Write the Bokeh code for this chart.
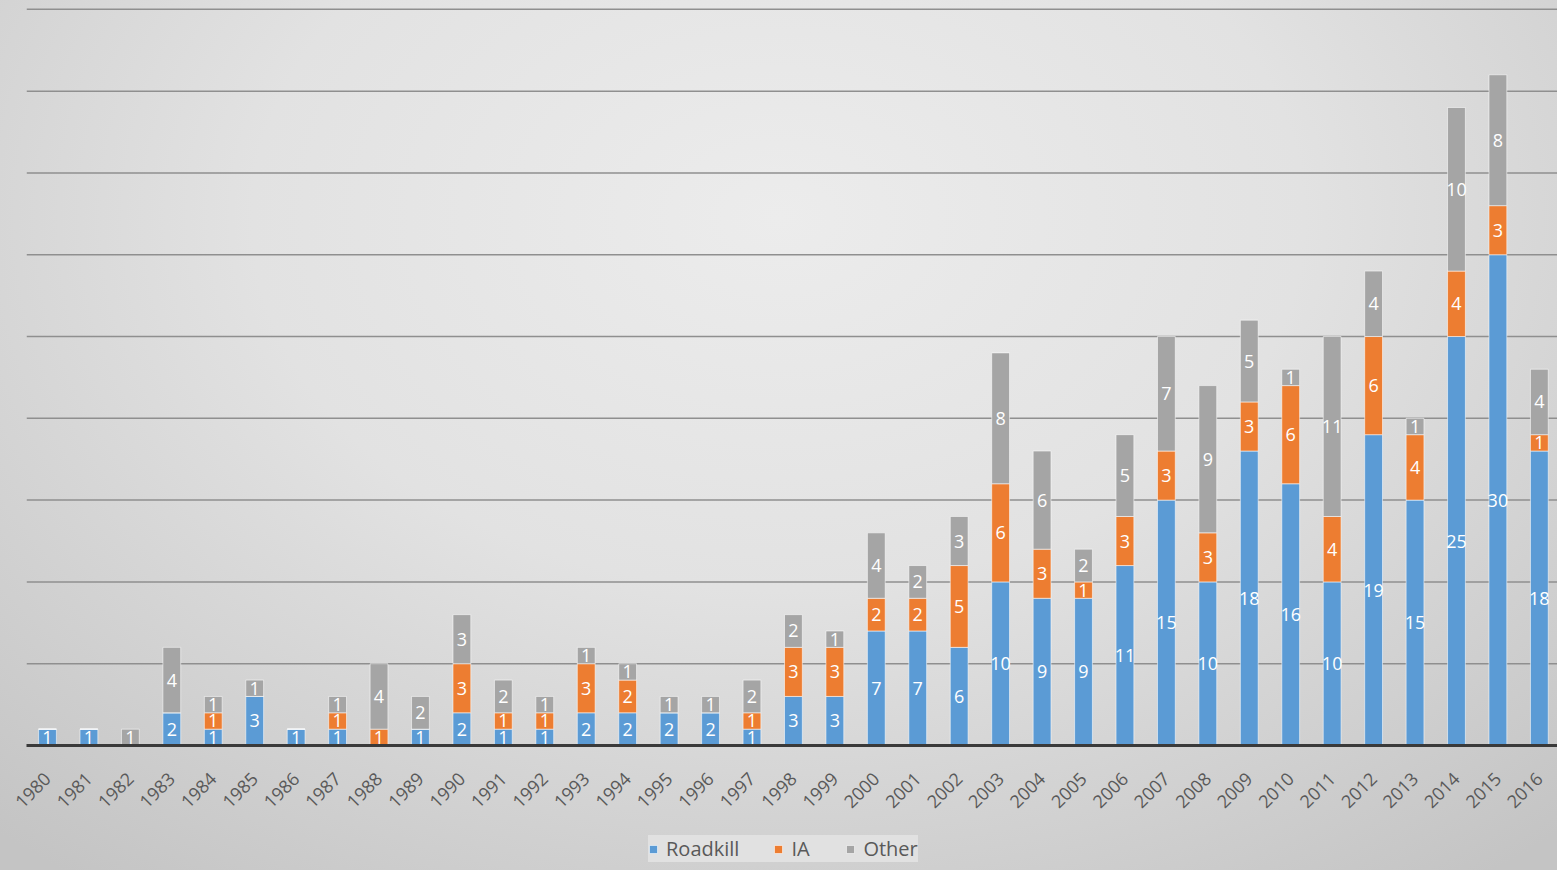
from bokeh.plotting import figure
from bokeh.models import (Range1d, FixedTicker, ColumnDataSource, Legend,
                          LegendItem)
from bokeh.core.properties import value
from bokeh.embed import file_html
from bokeh.resources import INLINE

# Yearly counts by cause
years = list(range(1980, 2017))
roadkill = [1, 1, 0, 2, 1, 3, 1, 1, 0, 1, 2, 1, 1, 2, 2, 2, 2, 1, 3, 3,
            7, 7, 6, 10, 9, 9, 11, 15, 10, 18, 16, 10, 19, 15, 25, 30, 18]
ia = [0, 0, 0, 0, 1, 0, 0, 1, 1, 0, 3, 1, 1, 3, 2, 0, 0, 1, 3, 3,
      2, 2, 5, 6, 3, 1, 3, 3, 3, 3, 6, 4, 6, 4, 4, 3, 1]
other = [0, 0, 1, 4, 1, 1, 0, 1, 4, 2, 3, 2, 1, 1, 1, 1, 1, 2, 2, 1,
         4, 2, 3, 8, 6, 2, 5, 7, 9, 5, 1, 11, 4, 1, 10, 8, 4]
series = ["Roadkill", "IA", "Other"]
colors = ["#5B9BD5", "#ED7D31", "#A5A5A5"]
grid_levels = [5, 10, 15, 20, 25, 30, 35, 40, 45]

FONT = "Open Sans"

source = ColumnDataSource(dict(year=years, Roadkill=roadkill, IA=ia, Other=other))

# The frame fills the canvas; the year axis is pinned at zero so the
# labels and legend share the area underneath it.
p = figure(width=1557, height=870,
           x_range=Range1d(1978.866, 2016.438), y_range=Range1d(-7.64, 45.54),
           output_backend="svg", toolbar_location=None,
           min_border_left=0, min_border_right=0, min_border_top=0,
           min_border_bottom=0)

# Soft radial backdrop behind a transparent canvas
p.styles = {"background-image":
            "radial-gradient(ellipse 75% 95% at 50% 25%, #ececec 0%, #e2e2e2 45%, #cfcfcf 80%, #c4c4c4 100%)"}
p.border_fill_alpha = 0
p.background_fill_alpha = 0
p.outline_line_color = None

# Horizontal gridlines spanning the category area only
p.xgrid.grid_line_color = None
p.ygrid.grid_line_color = None
p.segment(x0=[years[0] - 0.5] * len(grid_levels), x1=[years[-1] + 1] * len(grid_levels),
          y0=grid_levels, y1=grid_levels, line_color="#8f8f8f", line_width=1.5)

renderers = p.vbar_stack(series, x="year", width=0.43, color=colors,
                         line_color="white", line_alpha=0.55, line_width=1,
                         source=source)

# Segment value labels, centred inside each stacked segment
lx, ly, lt = [], [], []
for i, yr in enumerate(years):
    base = 0
    for vals in (roadkill, ia, other):
        v = vals[i]
        if v > 0:
            lx.append(yr)
            ly.append(base + v / 2)
            lt.append(str(v))
        base += v
p.text(x=lx, y=ly, text=lt, text_color="white", text_font=value(FONT),
       text_font_size="18px", text_align="center", text_baseline="middle")

# Year axis, starting at the first category's left edge
p.yaxis.visible = False
xa = p.xaxis[0]
xa.fixed_location = 0
xa.bounds = (years[0] - 0.5, years[-1] + 1)
xa.ticker = FixedTicker(ticks=years)
xa.major_label_overrides = {y: str(y) for y in years}
xa.major_label_orientation = 0.785398
xa.major_label_text_font = FONT
xa.major_label_text_font_size = "18px"
xa.major_label_text_color = "#595959"
xa.major_tick_line_color = None
xa.major_tick_out = 0
xa.minor_tick_line_color = None
xa.axis_line_color = "#3a3a3a"
xa.axis_line_width = 3
xa.major_label_standoff = 30

# Legend sits centred under the rotated year labels
legend = Legend(items=[LegendItem(label=s, renderers=[r]) for s, r in zip(series, renderers)],
                orientation="horizontal", location=(648, 8),
                label_text_font=FONT, label_text_font_size="20px",
                label_text_color="#595959", glyph_width=10, glyph_height=10,
                label_standoff=8, spacing=34, padding=16, margin=0,
                background_fill_color="#e4e4e4", background_fill_alpha=0.85,
                border_line_color=None)
p.add_layout(legend, "center")

open("out.html", "w").write(file_html(p, INLINE))
